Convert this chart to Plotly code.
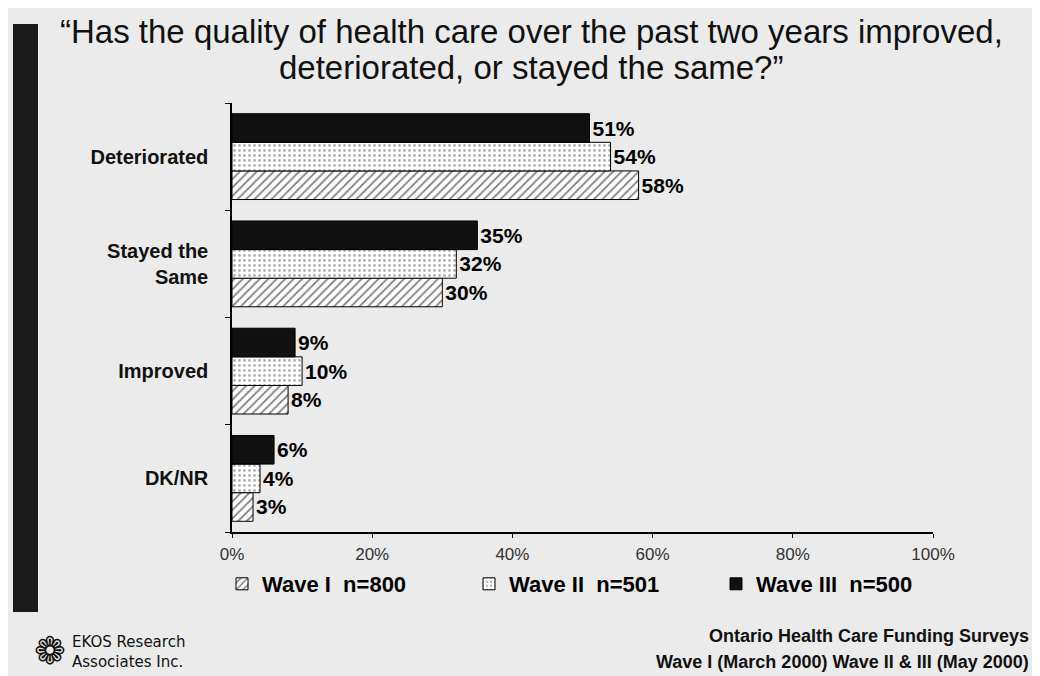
import plotly.graph_objects as go

categories = ["DK/NR", "Improved", "Stayed the<br>Same", "Deteriorated"]
wave1 = [3, 8, 30, 58]
wave2 = [4, 10, 32, 54]
wave3 = [6, 9, 35, 51]
series_names = ["Wave I\u00a0 n=800", "Wave II\u00a0 n=501", "Wave III\u00a0 n=500"]
tick_vals = [0, 20, 40, 60, 80, 100]
tick_text = ["0%", "20%", "40%", "60%", "80%", "100%"]

# the page body has an 8px margin; work in reference-screen pixels
OFF = 8
W, H = 1040 - OFF, 676 - OFF
L, R, T, B = 232 - OFF, 933 - OFF, 103 - OFF, 532 - OFF


def px(x):
    return (x - OFF - L) / (R - L)


def py(y):
    return (B - (y - OFF)) / (B - T)


BG = "#ebebeb"
ARIAL = "Liberation Sans, Arial, sans-serif"

fig = go.Figure()

styles = [
    dict(color="white", pattern=dict(shape="/", fgcolor="black", bgcolor="white", size=6, solidity=0.3)),
    dict(color="white", pattern=dict(shape=".", fgcolor="#666666", bgcolor="white", size=5, solidity=0.25)),
    dict(color="#111111"),
]

for name, vals, st in zip(series_names, [wave1, wave2, wave3], styles):
    fig.add_trace(go.Bar(
        y=categories, x=vals, name=name, orientation="h",
        marker=dict(line=dict(color="black", width=1), **st),
        text=[f"{v}%" for v in vals], textposition="outside",
        textfont=dict(family=ARIAL, size=21, color="black", weight="bold"),
        cliponaxis=False,
    ))

fig.update_layout(
    width=W, height=H,
    margin=dict(l=L, r=W - R, t=T, b=H - B),
    paper_bgcolor=BG, plot_bgcolor=BG,
    barmode="group", bargap=0.2, bargroupgap=0,
    showlegend=True,
    legend=dict(
        orientation="h", x=px(222), y=py(584), xanchor="left", yanchor="middle",
        font=dict(family=ARIAL, size=22, color="black", weight="bold"),
        bgcolor="rgba(0,0,0,0)", entrywidth=202, entrywidthmode="pixels",
        itemwidth=30,
    ),
    xaxis=dict(
        range=[0, 100], tickvals=tick_vals, ticktext=tick_text,
        showgrid=False, zeroline=False, showline=True, linecolor="black", linewidth=1.5,
        ticks="outside", ticklen=4, tickcolor="black",
        tickfont=dict(family=ARIAL, size=17, color="#333333"),
        ticklabelstandoff=2,
    ),
    yaxis=dict(
        categoryorder="array", categoryarray=categories,
        showgrid=False, zeroline=False, showline=True, linecolor="black", linewidth=1.5,
        ticks="outside", ticklen=5, tickcolor="black", tickson="boundaries",
        tickfont=dict(family=ARIAL, size=20, color="#111111", weight="bold"),
        ticklabelstandoff=18,
    ),
)

# left vertical dark band
fig.add_shape(type="rect", xref="paper", yref="paper",
              x0=px(13), x1=px(38), y0=py(612), y1=py(24),
              fillcolor="#1a1a1a", line=dict(width=0), layer="above")


def note(text, x, y, size, xanchor="center", family=ARIAL, weight="normal", color="#111111"):
    fig.add_annotation(
        xref="paper", yref="paper", x=px(x), y=py(y), xanchor=xanchor, yanchor="middle",
        text=text, showarrow=False,
        font=dict(family=family, size=size, color=color, weight=weight),
    )


# title
note("\u201cHas the quality of health care over the past two years improved,", 531, 32, 33)
note("deteriorated, or stayed the same?\u201d", 531, 68, 33)

# footer right
note("Ontario Health Care Funding Surveys", 1031, 636, 18, xanchor="right", weight="bold")
note("Wave I (March 2000) Wave II & III (May 2000)", 1031, 662, 18, xanchor="right", weight="bold")

# footer left
note("EKOS Research", 70, 642, 15, xanchor="left", family="DejaVu Sans, sans-serif")
note("Associates Inc.", 70, 662, 15, xanchor="left", family="DejaVu Sans, sans-serif")
note("\u2741", 50, 651, 38, family="DejaVu Sans, sans-serif")

fig.write_html("out.html")
